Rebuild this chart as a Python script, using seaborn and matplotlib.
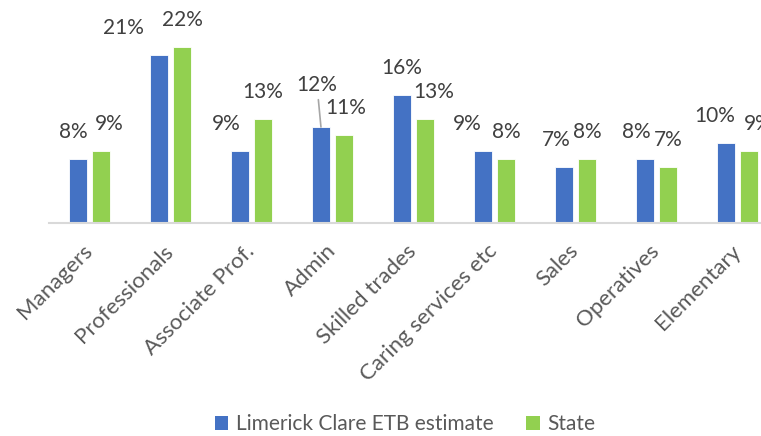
import pandas as pd
import matplotlib
matplotlib.use("Agg")
import matplotlib.pyplot as plt
from matplotlib.patches import Patch
import seaborn as sns

# occupation shares (%)
categories = ["Managers", "Professionals", "Associate Prof.", "Admin", "Skilled trades",
              "Caring services etc", "Sales", "Operatives", "Elementary"]
series_names = ["Limerick Clare ETB estimate", "State"]
limerick = [8, 21, 9, 12, 16, 9, 7, 8, 10]
state = [9, 22, 13, 11, 13, 8, 8, 7, 9]

colors = ["#4472C4", "#92D050"]

# label nudges in pixels (Excel moved some labels sideways to avoid overlaps)
nudge_blue = [-5, -36, -14, -4, 0, -16, -8, -9, -11]
nudge_green = [8, 0, 0, 2, 9, 0, 0, 0, 9]

df = pd.DataFrame({
    "category": categories * 2,
    "share": limerick + state,
    "series": [series_names[0]] * len(categories) + [series_names[1]] * len(categories),
})

sns.set_style("white")
plt.rcParams["font.family"] = ["Lato", "DejaVu Sans"]

W, H = 761, 436
fig = plt.figure(figsize=(W / 100, H / 100), dpi=100)
ax = fig.add_axes([49 / W, 1 - 223 / H, 729 / W, 200 / H])

sns.barplot(data=df, x="category", y="share", hue="series", palette=colors,
            saturation=1, width=0.57, gap=0.22, edgecolor="white", linewidth=0.6, ax=ax)
ax.get_legend().remove()

ax.set_xlim(-0.5, 8.5)
ax.set_ylim(0, 25)
ax.set_yticks([])
ax.set_xlabel("")
ax.set_ylabel("")
for s in ["top", "right", "left"]:
    ax.spines[s].set_visible(False)
ax.spines["bottom"].set_color("#D9D9D9")
ax.spines["bottom"].set_linewidth(1.5)
ax.tick_params(axis="x", length=0, pad=18)
ax.set_xticks(range(len(categories)))
ax.set_xticklabels(categories, rotation=45, ha="right", rotation_mode="anchor",
                   fontsize=16, color="#595959")
for lbl in ax.get_xticklabels():
    lbl.set_va("center")

px = 0.72  # points per pixel at 100 dpi
for cont, nudges in zip(ax.containers, [nudge_blue, nudge_green]):
    for i, bar in enumerate(cont):
        h = bar.get_height()
        x = bar.get_x() + bar.get_width() / 2
        gap = 17.5
        props = None
        if cont is ax.containers[0] and categories[i] == "Admin":
            gap = 32
            props = dict(arrowstyle="-", color="#A6A6A6", lw=1.2, shrinkA=1, shrinkB=0)
        ax.annotate(f"{h:.0f}%", xy=(x, h), xytext=(nudges[i] * px, gap * px),
                    textcoords="offset points", ha="center", va="bottom",
                    fontsize=15, color="#404040", arrowprops=props, annotation_clip=False)

handles = [Patch(facecolor=c, edgecolor="none") for c in colors]
fig.legend(handles, series_names, loc="center", bbox_to_anchor=(405 / W, 1 - 424 / H),
           ncol=2, frameon=False, fontsize=15, labelcolor="#595959",
           handlelength=0.65, handleheight=0.65, handletextpad=0.35, columnspacing=1.6,
           borderpad=0.1)

fig.savefig("out.png", dpi=100)
